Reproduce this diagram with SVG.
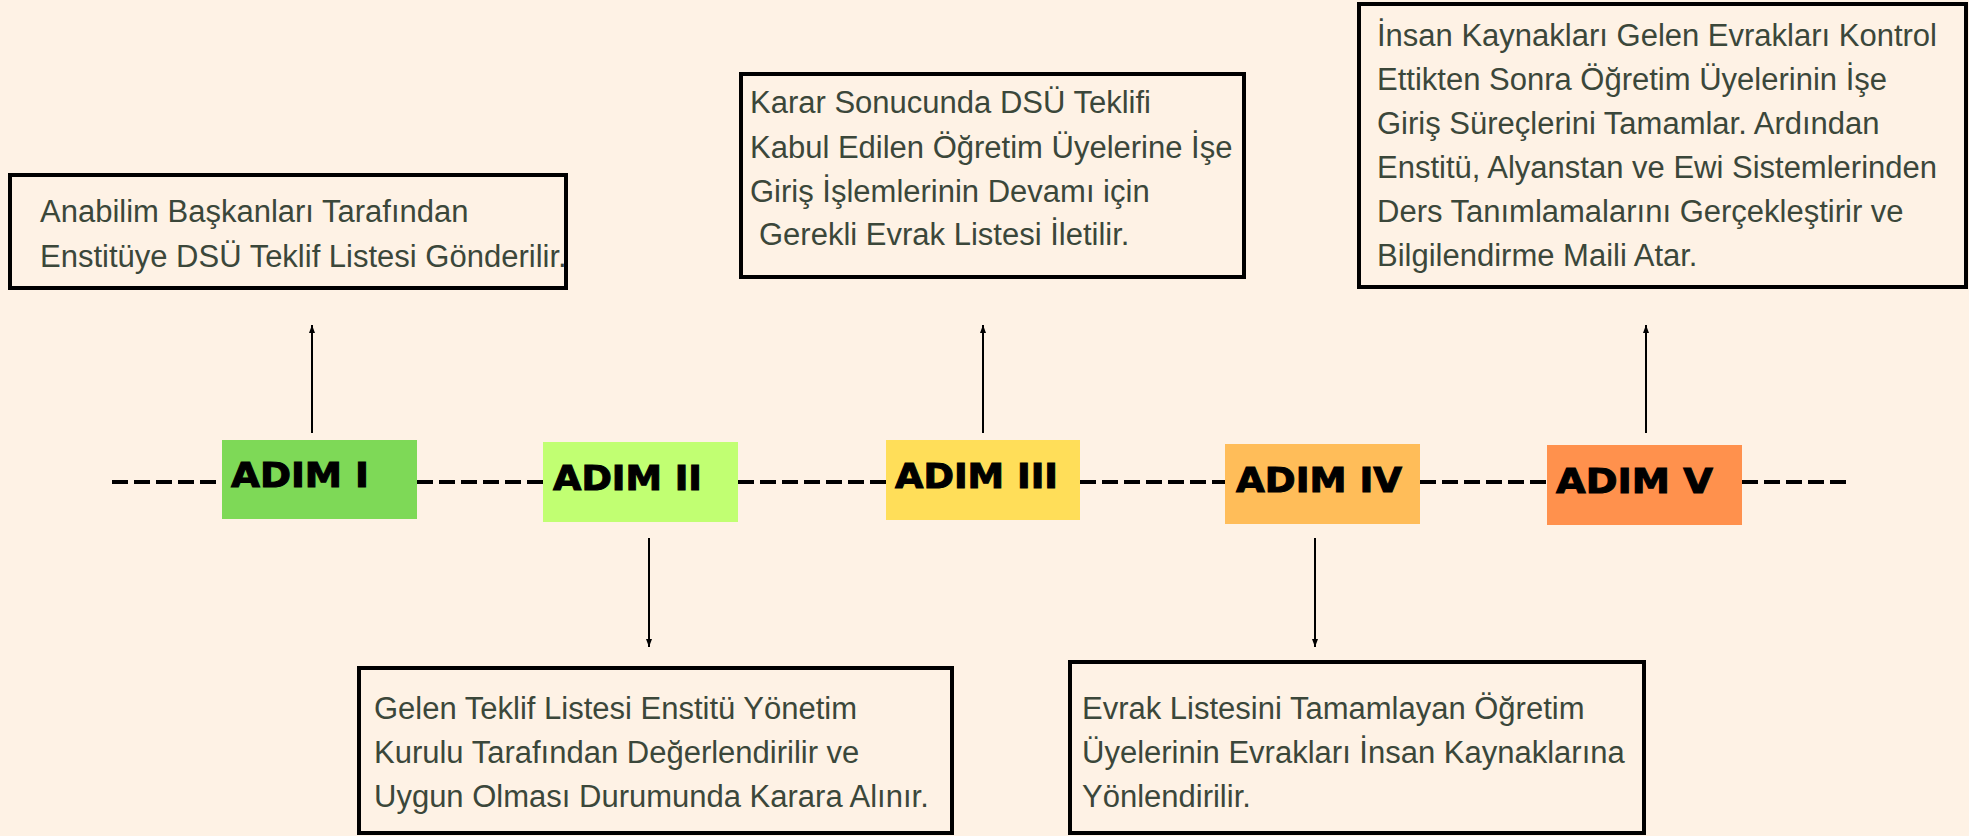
<svg xmlns="http://www.w3.org/2000/svg" width="1969" height="836" viewBox="0 0 1969 836">
<defs>
<style>
.bg{fill:#fef2e5}
.box{fill:none;stroke:#000;stroke-width:4}
.txt{font-family:"Liberation Sans",Arial,sans-serif;font-size:31px;fill:#3b473a}
.step{font-family:"DejaVu Sans","Liberation Sans",sans-serif;font-weight:bold;font-size:33px;fill:#000;stroke:#000;stroke-width:1}
.dash{stroke:#000;stroke-width:4;stroke-dasharray:16 6;fill:none}
.arr{stroke:#000;stroke-width:2;fill:none;marker-end:url(#ah)}
</style>
<marker id="ah" viewBox="0 0 8 6" refX="8" refY="3" markerWidth="4" markerHeight="3" orient="auto" markerUnits="strokeWidth">
<path d="M0,0 L8,3 L0,6 Z" fill="#000"/>
</marker>
</defs>
<rect class="bg" x="0" y="0" width="1969" height="836"/>

<g id="connectors">
<line class="dash" x1="112" y1="482" x2="222" y2="482"/>
<line class="dash" x1="417" y1="482" x2="543" y2="482"/>
<line class="dash" x1="738" y1="482" x2="886" y2="482"/>
<line class="dash" x1="1080" y1="482" x2="1225" y2="482"/>
<line class="dash" x1="1420" y1="482" x2="1547" y2="482"/>
<line class="dash" x1="1742" y1="482" x2="1851" y2="482"/>
<line class="arr" x1="312" y1="433" x2="312" y2="325"/>
<line class="arr" x1="649" y1="538" x2="649" y2="647"/>
<line class="arr" x1="983" y1="433" x2="983" y2="325"/>
<line class="arr" x1="1315" y1="538" x2="1315" y2="647"/>
<line class="arr" x1="1646" y1="433" x2="1646" y2="325"/>
</g>

<g id="adim1">
<rect x="222" y="440" width="195" height="79" fill="#7ed957"/>
<text class="step" x="231" y="487" textLength="138" lengthAdjust="spacingAndGlyphs">ADIM I</text>
</g>
<g id="adim2">
<rect x="543" y="442" width="195" height="80" fill="#c1ff72"/>
<text class="step" x="553" y="490" textLength="149" lengthAdjust="spacingAndGlyphs">ADIM II</text>
</g>
<g id="adim3">
<rect x="886" y="440" width="194" height="80" fill="#ffde59"/>
<text class="step" x="895" y="488" textLength="163" lengthAdjust="spacingAndGlyphs">ADIM III</text>
</g>
<g id="adim4">
<rect x="1225" y="444" width="195" height="80" fill="#ffbd59"/>
<text class="step" x="1236" y="492" textLength="166" lengthAdjust="spacingAndGlyphs">ADIM IV</text>
</g>
<g id="adim5">
<rect x="1547" y="445" width="195" height="80" fill="#ff914d"/>
<text class="step" x="1556" y="493" textLength="157" lengthAdjust="spacingAndGlyphs">ADIM V</text>
</g>

<g id="box1">
<rect class="box" x="10" y="175" width="556" height="113"/>
<text class="txt" x="40" y="222">Anabilim Başkanları Tarafından</text>
<text class="txt" x="40" y="267">Enstitüye DSÜ Teklif Listesi Gönderilir.</text>
</g>
<g id="box2">
<rect class="box" x="359" y="668" width="593" height="165"/>
<text class="txt" x="374" y="719">Gelen Teklif Listesi Enstitü Yönetim</text>
<text class="txt" x="374" y="763">Kurulu Tarafından Değerlendirilir ve</text>
<text class="txt" x="374" y="807">Uygun Olması Durumunda Karara Alınır.</text>
</g>
<g id="box3">
<rect class="box" x="741" y="74" width="503" height="203"/>
<text class="txt" x="750" y="113">Karar Sonucunda DSÜ Teklifi</text>
<text class="txt" x="750" y="158">Kabul Edilen Öğretim Üyelerine İşe</text>
<text class="txt" x="750" y="202">Giriş İşlemlerinin Devamı için</text>
<text class="txt" x="759" y="245">Gerekli Evrak Listesi İletilir.</text>
</g>
<g id="box4">
<rect class="box" x="1070" y="662" width="574" height="171"/>
<text class="txt" x="1082" y="719">Evrak Listesini Tamamlayan Öğretim</text>
<text class="txt" x="1082" y="763">Üyelerinin Evrakları İnsan Kaynaklarına</text>
<text class="txt" x="1082" y="807">Yönlendirilir.</text>
</g>
<g id="box5">
<rect class="box" x="1359" y="4" width="607" height="283"/>
<text class="txt" x="1377" y="46">İnsan Kaynakları Gelen Evrakları Kontrol</text>
<text class="txt" x="1377" y="90">Ettikten Sonra Öğretim Üyelerinin İşe</text>
<text class="txt" x="1377" y="134">Giriş Süreçlerini Tamamlar. Ardından</text>
<text class="txt" x="1377" y="178">Enstitü, Alyanstan ve Ewi Sistemlerinden</text>
<text class="txt" x="1377" y="222">Ders Tanımlamalarını Gerçekleştirir ve</text>
<text class="txt" x="1377" y="266">Bilgilendirme Maili Atar.</text>
</g>
</svg>
